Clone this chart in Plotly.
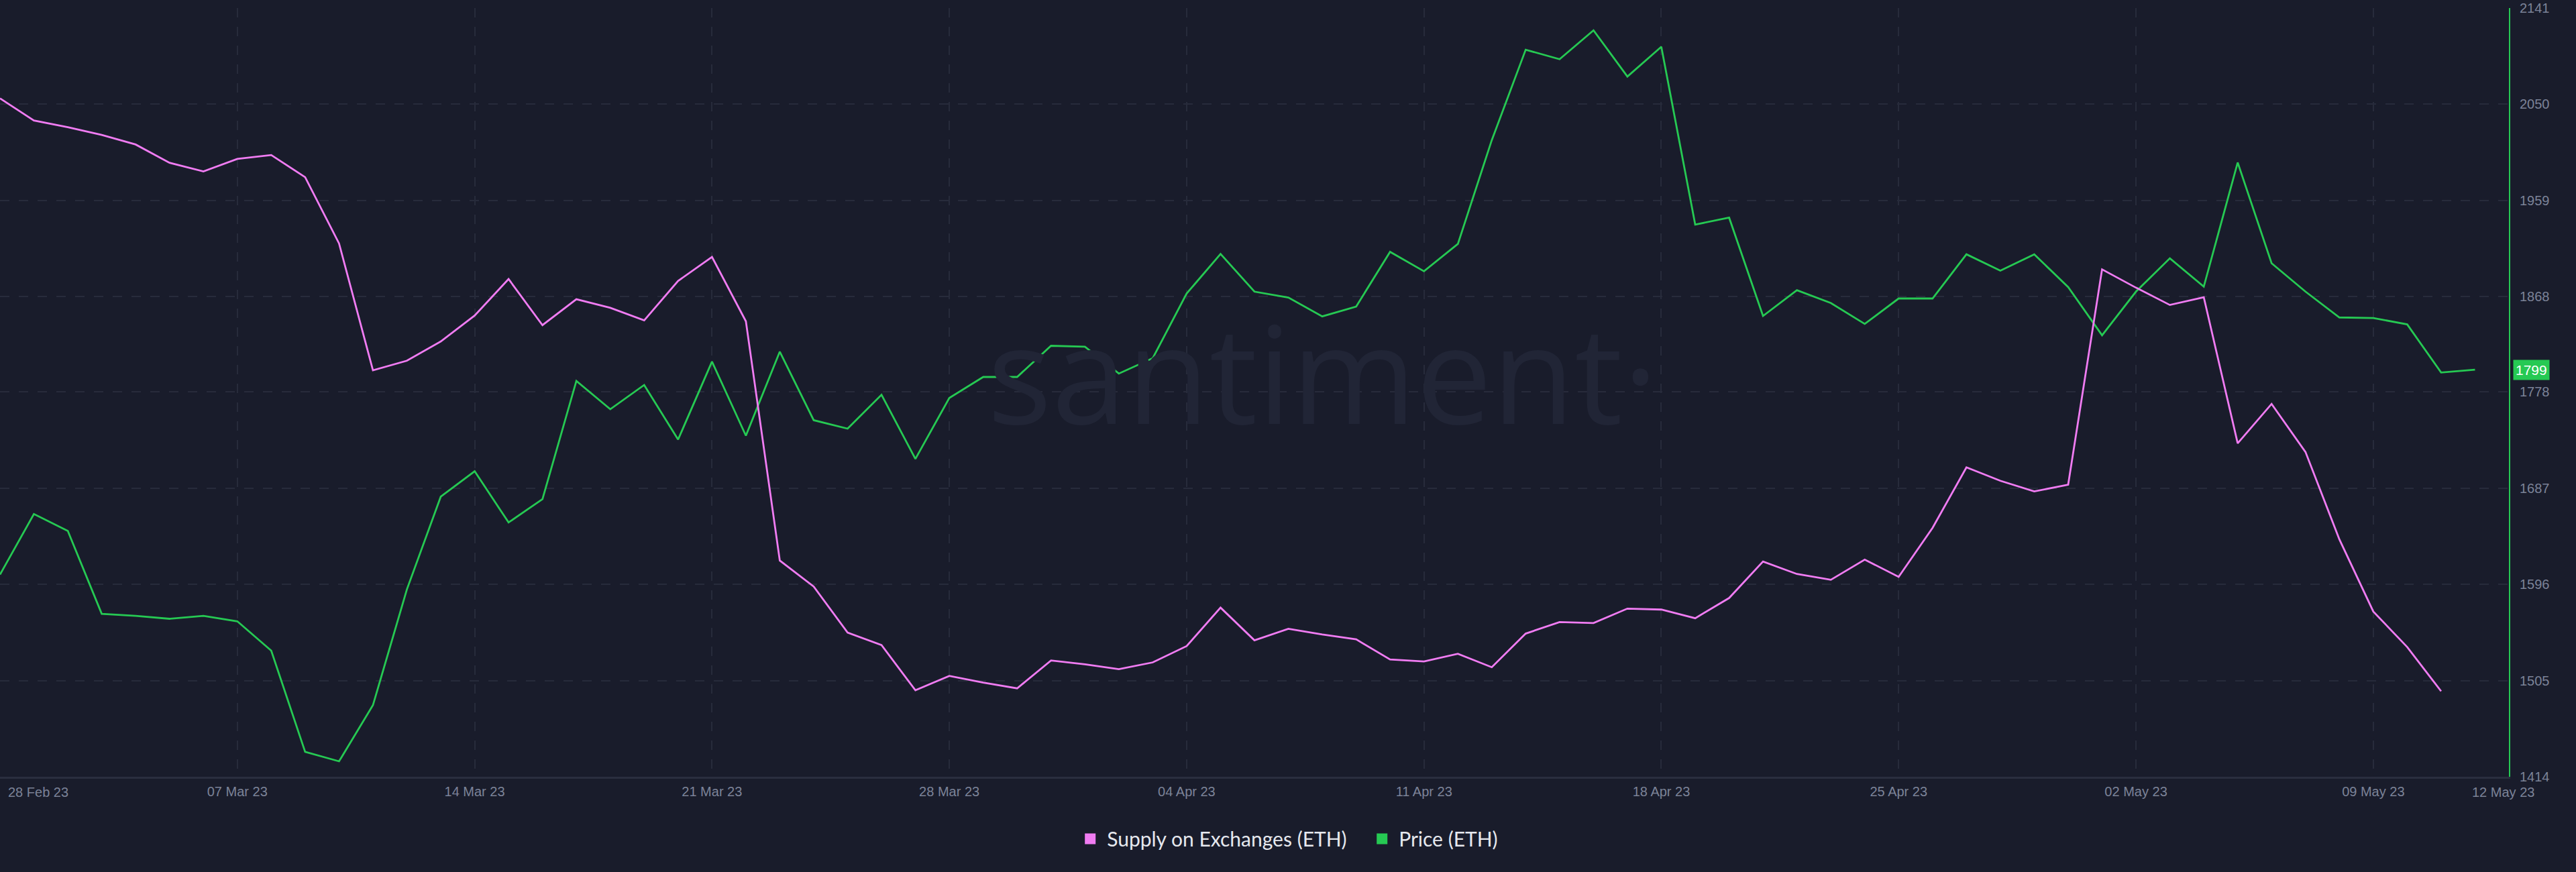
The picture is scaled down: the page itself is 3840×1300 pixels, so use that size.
import pandas as pd
import plotly.graph_objects as go

dates = pd.date_range("2023-02-28", "2023-05-12", freq="D")

price_eth = [1605.2, 1662.5, 1646.5, 1568.1, 1566.2, 1563.4, 1566.2, 1561.0, 1533.3, 1437.5,
             1428.6, 1481.7, 1591.1, 1678.9, 1702.9, 1654.5, 1676.6, 1788.3, 1761.6, 1784.5,
             1732.9, 1806.6, 1736.6, 1816.0, 1751.2, 1743.2, 1775.2, 1714.6, 1772.3, 1792.1,
             1792.1, 1821.6, 1820.7, 1795.3, 1809.9, 1871.0, 1908.5, 1872.8, 1867.2, 1849.4,
             1858.7, 1910.4, 1892.1, 1917.9, 2016.1, 2101.6, 2092.6, 2119.9, 2076.2, 2104.4,
             1936.2, 1942.8, 1849.8, 1874.2, 1862.0, 1842.3, 1866.3, 1866.3, 1908.1, 1892.6,
             1908.1, 1877.1, 1831.5, 1872.8, 1904.3, 1877.5, 1994.9, 1899.6, 1872.8, 1848.4,
             1847.9, 1841.8, 1796.3, 1799.0]

# Supply on exchanges, millions of ETH (hidden left axis)
supply_eth = [18.306, 18.283, 18.276, 18.268, 18.258, 18.239, 18.230, 18.243, 18.247, 18.224,
              18.155, 18.023, 18.033, 18.053, 18.080, 18.118, 18.070, 18.097, 18.088, 18.075,
              18.116, 18.141, 18.074, 17.825, 17.798, 17.750, 17.737, 17.690, 17.705, 17.698,
              17.692, 17.721, 17.717, 17.712, 17.719, 17.736, 17.776, 17.742, 17.754, 17.748,
              17.743, 17.722, 17.720, 17.728, 17.714, 17.749, 17.761, 17.760, 17.775, 17.774,
              17.765, 17.786, 17.824, 17.811, 17.805, 17.826, 17.808, 17.859, 17.922, 17.908,
              17.897, 17.904, 18.128, 18.109, 18.091, 18.099, 17.947, 17.988, 17.938, 17.847,
              17.772, 17.735, 17.689]

price_ticks = [1414, 1505, 1596, 1687, 1778, 1868, 1959, 2050, 2141]
date_ticks = ["2023-02-28", "2023-03-07", "2023-03-14", "2023-03-21", "2023-03-28",
              "2023-04-04", "2023-04-11", "2023-04-18", "2023-04-25", "2023-05-02", "2023-05-09"]
date_tick_text = ["", "07 Mar 23", "14 Mar 23", "21 Mar 23", "28 Mar 23",
                  "04 Apr 23", "11 Apr 23", "18 Apr 23", "25 Apr 23", "02 May 23", "09 May 23"]

BG = "#191c2b"
GRID = "#272b3b"
GREEN = "#26c953"
PINK = "#f07cf2"
TICK = "#7c8398"

fig = go.Figure()
fig.add_trace(go.Scatter(x=dates[:len(supply_eth)], y=supply_eth, mode="lines",
                         line=dict(color=PINK, width=2.8), yaxis="y2",
                         name="Supply on Exchanges (ETH)", showlegend=False))
fig.add_trace(go.Scatter(x=dates, y=price_eth, mode="lines",
                         line=dict(color=GREEN, width=2.8), yaxis="y",
                         name="Price (ETH)", showlegend=False))
# legend entries with square swatches
fig.add_trace(go.Scatter(x=[None], y=[None], mode="markers",
                         marker=dict(symbol="square", size=20, color=PINK),
                         name="Supply on Exchanges (ETH)"))
fig.add_trace(go.Scatter(x=[None], y=[None], mode="markers",
                         marker=dict(symbol="square", size=20, color=GREEN),
                         name="Price (ETH)"))

fig.update_layout(
    width=3840, height=1300,
    paper_bgcolor=BG, plot_bgcolor=BG,
    margin=dict(l=0, r=100, t=12, b=142),
    xaxis=dict(
        type="date",
        range=["2023-02-28", "2023-05-13"],
        tickvals=date_ticks, ticktext=date_tick_text,
        showgrid=True, gridcolor=GRID, griddash="14px,14px", gridwidth=1.5,
        showline=True, linecolor="#2a2e3f", linewidth=3,
        ticks="", tickfont=dict(family="Liberation Sans", size=20, color=TICK),
        ticklabelstandoff=2,
        zeroline=False,
    ),
    yaxis=dict(
        side="right", range=[1414, 2141],
        tickvals=price_ticks, ticktext=[str(v) for v in price_ticks],
        showgrid=True, gridcolor=GRID, griddash="14px,14px", gridwidth=1.5,
        showline=True, linecolor=GREEN, linewidth=2,
        ticks="", tickfont=dict(family="Liberation Sans", size=20, color=TICK),
        ticklabelstandoff=10,
        zeroline=False,
    ),
    yaxis2=dict(overlaying="y", side="left", range=[17.60, 18.40], visible=False),
    legend=dict(
        orientation="h", xref="container", yref="container",
        x=0.530, xanchor="center", y=0.038, yanchor="middle",
        font=dict(family="Lato", size=30, color="#e6e8ee"),
        bgcolor="rgba(0,0,0,0)", itemclick=False, entrywidth=380, itemwidth=40,
    ),
    showlegend=True,
)

fig.add_annotation(text="santiment·", xref="paper", yref="paper", x=0.525, y=0.527,
                   xshift=8, showarrow=False,
                   font=dict(family="Open Sans", size=201, color="#212536"),
                   xanchor="center", yanchor="middle")
fig.add_annotation(text="1799", xref="paper", yref="y", x=1, y=price_eth[-1],
                   xanchor="left", xshift=6, showarrow=False, bgcolor=GREEN,
                   font=dict(family="Liberation Sans", size=21, color="#ffffff"), borderpad=3)
fig.add_annotation(text="28 Feb 23", xref="paper", yref="paper", x=0, y=0,
                   xanchor="left", yanchor="top", xshift=10, yshift=-10, showarrow=False,
                   font=dict(family="Liberation Sans", size=20, color=TICK))
fig.add_annotation(text="12 May 23", xref="paper", yref="paper", x=1, y=0,
                   xanchor="center", yanchor="top", xshift=-9, yshift=-10, showarrow=False,
                   font=dict(family="Liberation Sans", size=20, color=TICK))

fig.write_html("out.html")
